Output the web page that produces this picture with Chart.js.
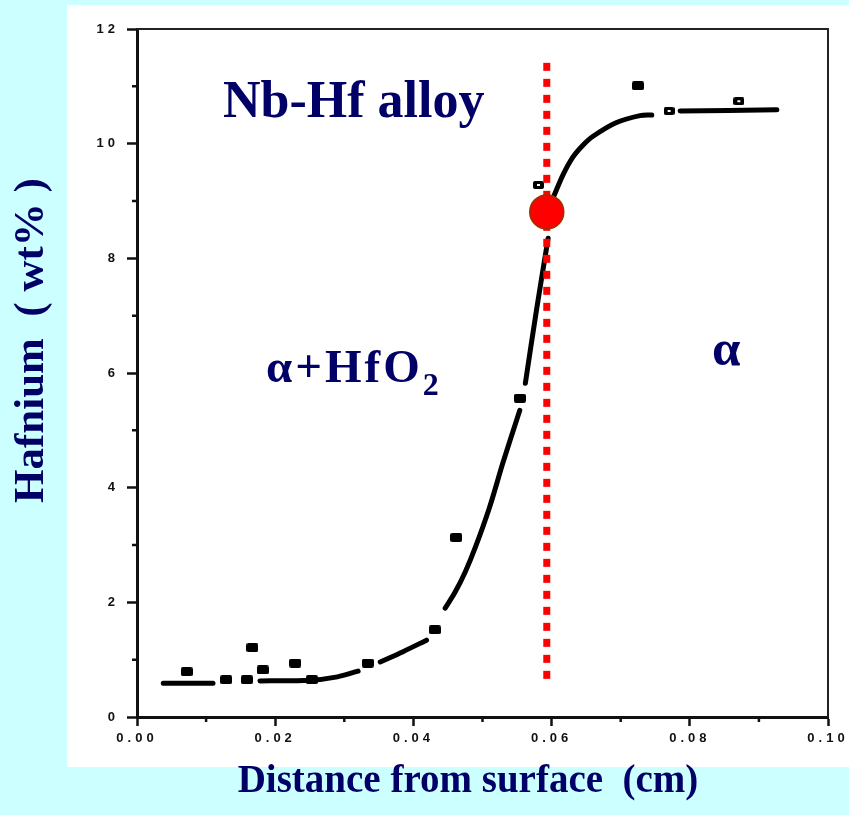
<!DOCTYPE html>
<html>
<head>
<meta charset="utf-8">
<title>Nb-Hf alloy – Hafnium profile</title>
<script src="https://cdn.jsdelivr.net/npm/chart.js@4.4.1/dist/chart.umd.min.js"></script>
<style>
  html, body { margin: 0; padding: 0; background: #ccffff; overflow: hidden; }
  canvas { display: block; }
</style>
</head>
<body>
<canvas id="hf" width="849" height="815"></canvas>
<script>
// Axis tick labels (major ticks); minor ticks sit halfway between them
const xTickLabels = ['0.00', '0.02', '0.04', '0.06', '0.08', '0.10'];
const yTickLabels = ['0', '2', '4', '6', '8', '10', '12'];

// Measured hafnium content (filled squares)
const filledDepth = [0.0072, 0.0129, 0.0159, 0.0167, 0.0182, 0.0229, 0.0253, 0.0334, 0.0431, 0.0462, 0.0554, 0.0725];
const filledHf    = [0.79,   0.65,   0.65,   1.21,   0.82,   0.94,   0.65,   0.94,   1.52,   3.13,   5.56,   11.01];

// Measured hafnium content (open squares)
const openDepth = [0.0581, 0.0770, 0.0871];
const openHf    = [9.28,   10.57,  10.74];

// Fitted profile; null entries break the line
const curveDepth = [0.0038, 0.0110, 0.0145, 0.0178, 0.0250, 0.0290, 0.0320, 0.0336, 0.0352, 0.0385, 0.0419, 0.0432,
                    0.0446, 0.0460, 0.0475, 0.0490, 0.0510, 0.0530, 0.0554, 0.0558, 0.0562, 0.0578, 0.0595, 0.0599,
                    0.0603, 0.0617, 0.0631, 0.0645, 0.0660, 0.0694, 0.0728, 0.0745, 0.0765, 0.0786, 0.0926];
const curveHf    = [0.59,   0.59,   null,   0.63,   0.64,   0.70,   0.80,   null,   0.96,   1.14,   1.34,   null,
                    1.90,   2.17,   2.53,   2.97,   3.65,   4.45,   5.35,   null,   5.82,   7.09,   8.35,   null,
                    9.08,   9.47,   9.77,   9.97,   10.13,  10.37,  10.49,  10.50,  null,   10.57,  10.59];

// Phase boundary (dotted line) and the marked point on it
const boundaryDepth = [0.0593, 0.0593];
const boundaryHf    = [11.41, 0.65];
const markerDepth = [0.0593];
const markerHf    = [8.81];

const toPoints = (xs, ys) => xs.map((x, i) => ({ x: x, y: ys[i] }));

// Small rectangular markers like a plotter's squares
function squareMarker(w, h, open) {
  const c = document.createElement('canvas');
  c.width = w; c.height = h;
  const g = c.getContext('2d');
  g.fillStyle = '#000';
  g.beginPath();
  g.roundRect(0, 0, w, h, 2);
  g.fill();
  if (open) {
    g.fillStyle = '#fff';
    g.fillRect(4, 3, w - 8, h - 6);
  }
  return c;
}
const filledSquare = squareMarker(12, 9, false);
const openSquare = squareMarker(11, 8, true);

const INK = '#111111';
const NAVY = '#000066';
const SERIF = '"Liberation Serif", "Times New Roman", serif';

const decor = {
  id: 'decor',
  beforeDraw(chart) {
    const ctx = chart.ctx;
    ctx.save();
    ctx.fillStyle = '#ccffff';
    ctx.fillRect(0, 0, chart.width, chart.height);
    ctx.fillStyle = '#ffffff';
    ctx.fillRect(67, 5, chart.width - 67, 762);
    ctx.restore();
    // wide-spaced tick digits
    ctx.letterSpacing = '4px';
  },
  beforeDatasetsDraw(chart) {
    const ctx = chart.ctx;
    ctx.letterSpacing = '0px';
    const a = chart.chartArea;
    const xs = chart.scales.x, ys = chart.scales.y;
    ctx.save();
    ctx.strokeStyle = '#222';
    ctx.lineWidth = 2;
    ctx.beginPath();
    ctx.moveTo(a.left, a.top);
    ctx.lineTo(a.right, a.top);
    ctx.lineTo(a.right, a.bottom);
    ctx.stroke();
    // minor ticks
    ctx.strokeStyle = INK;
    ctx.lineWidth = 2.5;
    ctx.beginPath();
    for (let i = 0; i < xTickLabels.length - 1; i++) {
      const v = (parseFloat(xTickLabels[i]) + parseFloat(xTickLabels[i + 1])) / 2;
      const px = xs.getPixelForValue(v);
      ctx.moveTo(px, a.bottom);
      ctx.lineTo(px, a.bottom + 5);
    }
    for (let i = 0; i < yTickLabels.length - 1; i++) {
      const v = (parseFloat(yTickLabels[i]) + parseFloat(yTickLabels[i + 1])) / 2;
      const py = ys.getPixelForValue(v);
      ctx.moveTo(a.left, py);
      ctx.lineTo(a.left - 5, py);
    }
    ctx.stroke();
    ctx.restore();
  },
  afterDraw(chart) {
    const ctx = chart.ctx;
    ctx.save();
    ctx.letterSpacing = '0px';
    ctx.fillStyle = NAVY;
    ctx.textBaseline = 'alphabetic';
    ctx.textAlign = 'left';
    ctx.font = 'bold 52px ' + SERIF;
    ctx.fillText('Nb-Hf alloy', 223, 117);

    ctx.font = 'bold 47px ' + SERIF;
    ctx.letterSpacing = '3px';
    ctx.fillText('\u03B1+HfO', 266, 382);
    const w = ctx.measureText('\u03B1+HfO').width;
    ctx.letterSpacing = '0px';
    ctx.font = 'bold 32px ' + SERIF;
    ctx.fillText('2', 266 + w, 395);

    ctx.font = 'bold 51px ' + SERIF;
    ctx.fillText('\u03B1', 712, 365);

    ctx.font = 'bold 39px ' + SERIF;
    ctx.textAlign = 'center';
    ctx.fillText('Distance from surface  (cm)', 468, 792);

    ctx.translate(43, 503);
    ctx.rotate(-Math.PI / 2);
    ctx.font = 'bold 43px ' + SERIF;
    ctx.textAlign = 'left';
    ctx.fillText('Hafnium  ( wt% )', 0, 0);
    ctx.restore();
  }
};

new Chart(document.getElementById('hf'), {
  type: 'scatter',
  data: {
    datasets: [
      {
        label: 'marker',
        data: toPoints(markerDepth, markerHf),
        pointRadius: 17,
        pointHoverRadius: 17,
        backgroundColor: '#ff0000',
        borderColor: '#993300',
        borderWidth: 1.5,
        order: 0
      },
      {
        label: 'boundary',
        data: toPoints(boundaryDepth, boundaryHf),
        showLine: true,
        pointRadius: 0,
        borderColor: '#ff0000',
        borderWidth: 7,
        borderDash: [8, 8],
        borderCapStyle: 'butt',
        order: 1
      },
      {
        label: 'open',
        data: toPoints(openDepth, openHf),
        pointStyle: openSquare,
        order: 2
      },
      {
        label: 'filled',
        data: toPoints(filledDepth, filledHf),
        pointStyle: filledSquare,
        order: 3
      },
      {
        label: 'profile',
        data: toPoints(curveDepth, curveHf),
        showLine: true,
        spanGaps: false,
        pointRadius: 0,
        borderColor: '#000000',
        borderWidth: 5,
        borderCapStyle: 'round',
        borderJoinStyle: 'round',
        tension: 0.35,
        order: 4
      }
    ]
  },
  options: {
    responsive: false,
    animation: false,
    devicePixelRatio: 1,
    layout: { padding: { left: 0, top: 29, right: 21, bottom: 0 } },
    plugins: {
      legend: { display: false },
      tooltip: { enabled: false }
    },
    scales: {
      x: {
        type: 'linear',
        min: parseFloat(xTickLabels[0]),
        max: parseFloat(xTickLabels[xTickLabels.length - 1]),
        afterBuildTicks: s => { s.ticks = xTickLabels.map(t => ({ value: parseFloat(t) })); },
        afterFit: s => { s.height = 98; s.paddingLeft = 0; s.paddingRight = 0; },
        ticks: {
          callback: (v, i) => xTickLabels[i],
          color: INK,
          padding: 5,
          maxRotation: 0,
          font: { family: '"Liberation Sans", Arial, sans-serif', size: 13, weight: 'bold' }
        },
        grid: { drawOnChartArea: false, tickLength: 9, tickWidth: 2.5, tickColor: INK },
        border: { display: true, color: INK, width: 3 }
      },
      y: {
        type: 'linear',
        min: parseFloat(yTickLabels[0]),
        max: parseFloat(yTickLabels[yTickLabels.length - 1]),
        afterBuildTicks: s => { s.ticks = yTickLabels.map(t => ({ value: parseFloat(t) })); },
        afterFit: s => { s.width = 137; s.paddingTop = 0; s.paddingBottom = 0; },
        ticks: {
          callback: (v, i) => yTickLabels[i],
          color: INK,
          padding: 8,
          font: { family: '"Liberation Sans", Arial, sans-serif', size: 13, weight: 'bold' }
        },
        grid: { drawOnChartArea: false, tickLength: 10, tickWidth: 2.5, tickColor: INK },
        border: { display: true, color: INK, width: 3 }
      }
    }
  },
  plugins: [decor]
});
</script>
</body>
</html>
